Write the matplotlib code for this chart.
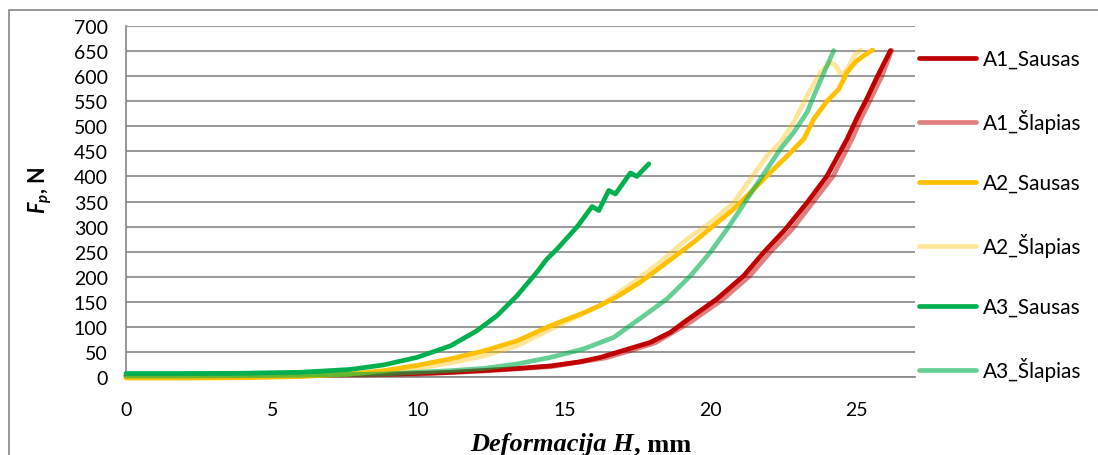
import matplotlib
matplotlib.use("Agg")
import matplotlib.pyplot as plt
from matplotlib.patches import Rectangle

# data (x = deformation, mm; y = force, N)
a1_sausas_x = [0, 2, 4, 6, 8, 9.95, 11, 12.24, 13.4, 14.52, 15.5, 16.23, 16.8, 17.94, 18.63, 19.09,
               20.23, 21.14, 21.83, 22.57, 23.31, 23.99, 24.68, 25.0, 25.36, 25.7, 26.16]
a1_sausas_y = [3, 3, 3.5, 4, 5, 7, 9, 13, 17, 22, 30, 39, 49, 69, 89, 109,
               156, 202, 249, 295, 348, 401, 475, 515, 556, 598, 651]

a1_slapias_x = [0, 2, 4, 6, 8, 10, 12.3, 14.6, 16.4, 17.0, 18.1, 19.3, 20.45, 21.35, 22.05, 22.8,
                23.5, 24.2, 24.85, 25.15, 25.5, 25.85, 26.2]
a1_slapias_y = [2, 2, 2.5, 3, 4, 6, 12, 21, 38, 48, 68, 109, 156, 202, 249, 295,
                348, 401, 475, 515, 556, 598, 651]

a2_sausas_x = [0, 2, 4, 6, 7.67, 8.81, 9.95, 11.1, 12.24, 13.38, 14.52, 15.66, 16.23, 16.8, 17.6,
               18.52, 19.43, 20.11, 20.8, 21.37, 22.05, 22.63, 23.2, 23.54, 23.99, 24.39, 24.68,
               24.96, 25.25, 25.55]
a2_sausas_y = [-2, -2, -1.5, 1, 6, 12.6, 23, 36, 52, 72, 102, 128, 143, 160, 189,
               229, 269, 302, 335, 368, 408, 441, 475, 515, 550, 574, 608,
               628, 641, 652]

a2_slapias_x = [0, 2, 4, 6, 8, 9.95, 11.1, 12.24, 13.38, 14.52, 15.6, 16.23, 17.37, 18.28, 19.2,
                20.0, 20.8, 21.37, 21.94, 22.4, 22.85, 23.31, 23.77, 24.11, 24.28, 24.5, 24.68,
                24.96, 25.16]
a2_slapias_y = [-1, -1, -0.5, 2, 7, 17, 28, 42, 62, 95, 125, 142, 189, 229, 275,
                308, 348, 395, 441, 468, 508, 561, 608, 628, 621, 601, 614,
                644, 652]

a3_sausas_x = [0, 2, 4, 6, 7.67, 8.81, 9.95, 11.1, 12.0, 12.69, 13.38, 14.06, 14.4, 14.75, 15.43,
               15.95, 16.18, 16.52, 16.75, 17.26, 17.48, 17.89]
a3_sausas_y = [7, 7, 7.5, 9.5, 15, 24, 39, 62, 92, 122, 162, 209, 235, 255, 299,
               340, 332, 372, 365, 407, 400, 425]

a3_slapias_x = [0, 2, 4, 6, 8.81, 11.1, 12.24, 13.38, 14.52, 15.66, 16.69, 17.72, 18.52, 19.32,
                20.0, 20.57, 21.03, 21.48, 21.94, 22.4, 22.85, 23.31, 23.54, 23.99, 24.22]
a3_slapias_y = [2, 2, 2.5, 3.5, 6, 12.6, 17, 26, 39, 56, 79, 122, 156, 202,
                249, 295, 335, 375, 415, 455, 488, 528, 561, 621, 651]

series = [
    ("A1_Sausas", a1_sausas_x, a1_sausas_y, "#C00000", 1.0),
    ("A1_Šlapias", a1_slapias_x, a1_slapias_y, "#C00000", 0.5),
    ("A2_Sausas", a2_sausas_x, a2_sausas_y, "#FFC000", 1.0),
    ("A2_Šlapias", a2_slapias_x, a2_slapias_y, "#FFC000", 0.4),
    ("A3_Sausas", a3_sausas_x, a3_sausas_y, "#00B050", 1.0),
    ("A3_Šlapias", a3_slapias_x, a3_slapias_y, "#00B050", 0.6),
]

y_ticks = list(range(0, 701, 50))
x_ticks = [0, 5, 10, 15, 20, 25]

W, H = 1098, 456
plt.rcParams["font.family"] = ["Lato", "DejaVu Sans"]
plt.rcParams["mathtext.fontset"] = "custom"
plt.rcParams["mathtext.bfit"] = "Lato:italic:bold"
plt.rcParams["mathtext.bf"] = "Lato:bold"
plt.rcParams["mathtext.rm"] = "Lato"

fig = plt.figure(figsize=(W / 100, H / 100), dpi=100)
ax = fig.add_axes([126 / W, 1 - 378 / H, (915 - 126) / W, (378 - 27) / H])

for name, xs, ys, col, a in series:
    ax.plot(xs, ys, color=col, alpha=a, lw=3.4, label=name,
            solid_capstyle="round", solid_joinstyle="round", clip_on=False, zorder=3)

ax.set_xlim(0, 27)
ax.set_ylim(0, 700)
ax.set_yticks(y_ticks)
ax.set_xticks(x_ticks)
ax.tick_params(length=0, labelsize=14, colors="black")
ax.tick_params(axis="x", pad=17)
ax.tick_params(axis="y", pad=13)
ax.yaxis.grid(True, color="#868686", lw=1.2)
ax.set_axisbelow(True)
for s in ["top", "right"]:
    ax.spines[s].set_visible(False)
for s in ["left", "bottom"]:
    ax.spines[s].set_color("#868686")
    ax.spines[s].set_linewidth(1.2)

# axis titles
fig.text(40 / W, 1 - 190 / H, r"$\mathbfit{F_p}$, N", rotation=90, fontsize=15.5,
         fontweight="bold", ha="center", va="center")
t1 = fig.text(470 / W, 1 - 451 / H, "Deformacija H", fontsize=19,
              family="Liberation Serif", fontweight="bold", fontstyle="italic",
              ha="left", va="baseline")
ax.annotate(", mm", xy=(1, 0), xycoords=t1, fontsize=19, family="Liberation Serif",
            fontweight="bold", ha="left", va="bottom", annotation_clip=False)

leg = ax.legend(loc="upper left", bbox_to_anchor=(919 / W, 1 - 50 / H),
                bbox_transform=fig.transFigure, frameon=False, fontsize=15,
                handlelength=2.75, handletextpad=0.3, labelspacing=1.92,
                borderpad=0, borderaxespad=0)

# outer chart border
fig.patches.append(Rectangle((9 / W, -0.05), 1.1, 1 - 11 / H + 0.05, transform=fig.transFigure,
                             fill=False, edgecolor="#868686", lw=1.2))

fig.savefig("out.png", dpi=100)
